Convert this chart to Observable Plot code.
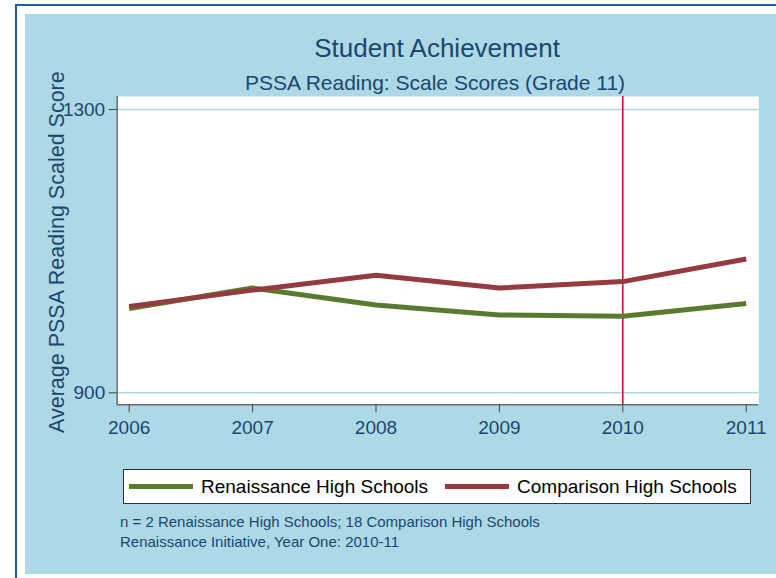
<!DOCTYPE html>
<html>
<head>
<meta charset="utf-8">
<script src="https://cdn.jsdelivr.net/npm/d3@7"></script>
<script src="https://cdn.jsdelivr.net/npm/@observablehq/plot@0.6"></script>
<style>
  html, body { margin: 0; padding: 0; background: #ffffff; }
  body { width: 776px; height: 578px; position: relative; overflow: hidden; font-family: "Liberation Sans", Arial, sans-serif; }
  #border { position: absolute; left: 15px; top: 4px; width: 770px; height: 580px; border-top: 2px solid #1f5ba6; border-left: 2px solid #1f5ba6; box-sizing: border-box; }
  #bg { position: absolute; left: 25px; top: 14px; right: 0; height: 560px; background: #add8e6; }
  #chart { position: absolute; left: 0; top: 0; }
  .ttl { position: absolute; left: 137px; width: 600px; text-align: center; color: #1a476f; line-height: 1; white-space: nowrap; }
  #title { top: 35px; font-size: 26px; }
  #subtitle { top: 72px; font-size: 21px; left: 135px; }
  #legend { position: absolute; left: 123px; top: 469px; width: 628px; height: 35px; box-sizing: border-box; background: #fff; border: 1px solid #333; display: flex; align-items: center; padding-left: 5px; font-size: 19px; color: #000; white-space: nowrap; }
  .item { display: flex; align-items: center; }
  .item + .item { margin-left: 17px; }
  .sw { width: 64px; height: 5px; margin-right: 8px; }
  #caption { position: absolute; left: 120px; top: 512px; font-size: 15px; line-height: 20px; color: #1a476f; white-space: nowrap; }
</style>
</head>
<body>
<div id="border"></div>
<div id="bg"></div>
<div id="chart"></div>
<div id="title" class="ttl"></div>
<div id="subtitle" class="ttl"></div>
<div id="legend"></div>
<div id="caption"></div>
<script>
// ---- data ----
const years = [2006, 2007, 2008, 2009, 2010, 2011];
const renaissance = [1019, 1048, 1024, 1010, 1008, 1026];
const comparison = [1022, 1045, 1066, 1048, 1057, 1089];
const seriesNames = ["Renaissance High Schools", "Comparison High Schools"];
const seriesColors = ["#5a7b2f", "#953a40"];
const xTicks = [2006, 2007, 2008, 2009, 2010, 2011];
const yTicks = [900, 1300];
const eventYear = 2010;
const titleText = "Student Achievement";
const subtitleText = "PSSA Reading: Scale Scores (Grade 11)";
const yLabel = "Average PSSA Reading Scaled Score";
const captionLines = ["n = 2 Renaissance High Schools; 18 Comparison High Schools", "Renaissance Initiative, Year One: 2010-11"];

const xDomain = [2005.903, 2011.102];
const yDomain = [883.06, 1318.35];

const rows = [];
[renaissance, comparison].forEach((vals, i) => {
  years.forEach((yr, j) => rows.push({year: yr, value: vals[j], series: seriesNames[i]}));
});

const chart = Plot.plot({
  width: 776,
  height: 440,
  marginLeft: 116.7,
  marginRight: 17.7,
  marginTop: 96,
  marginBottom: 35.7,
  style: {background: "transparent", fontFamily: "'Liberation Sans', Arial, sans-serif", overflow: "visible"},
  x: {domain: xDomain},
  y: {domain: yDomain},
  color: {domain: seriesNames, range: seriesColors},
  marks: [
    Plot.frame({fill: "white", stroke: null}),
    Plot.ruleY(yTicks, {stroke: "#add8e6", strokeWidth: 1.5}),
    Plot.ruleX([eventYear], {stroke: "#c8163c", strokeWidth: 1.6}),
    Plot.line(rows, {x: "year", y: "value", stroke: "series", z: "series", strokeWidth: 5, strokeLinecap: "butt", strokeLinejoin: "round"}),
    Plot.ruleX([xDomain[0]], {stroke: "#6b6b6b", strokeWidth: 1.5}),
    Plot.ruleY([yDomain[0]], {stroke: "#6b6b6b", strokeWidth: 1.5}),
    Plot.axisX({ticks: xTicks, tickSize: 8, tickPadding: 8, tickFormat: d => String(d), fontSize: 19, stroke: "#444", fill: "#1a476f", label: null}),
    Plot.axisY({ticks: yTicks, tickSize: 8, tickPadding: 4, tickFormat: d => String(d), fontSize: 19, stroke: "#444", fill: "#1a476f", label: null}),
    Plot.text([yLabel], {text: d => d, frameAnchor: "left", rotate: -90, dx: -60, dy: 1.5, fontSize: 21.5, fill: "#1a476f", textAnchor: "middle", lineAnchor: "middle"})
  ]
});
document.getElementById("chart").appendChild(chart);

document.getElementById("title").textContent = titleText;
document.getElementById("subtitle").textContent = subtitleText;

const legend = document.getElementById("legend");
seriesNames.forEach((name, i) => {
  const item = document.createElement("div");
  item.className = "item";
  const sw = document.createElement("div");
  sw.className = "sw";
  sw.style.background = seriesColors[i];
  const lab = document.createElement("span");
  lab.textContent = name;
  item.appendChild(sw);
  item.appendChild(lab);
  legend.appendChild(item);
});

const cap = document.getElementById("caption");
captionLines.forEach(t => {
  const d = document.createElement("div");
  d.textContent = t;
  cap.appendChild(d);
});
</script>
</body>
</html>
